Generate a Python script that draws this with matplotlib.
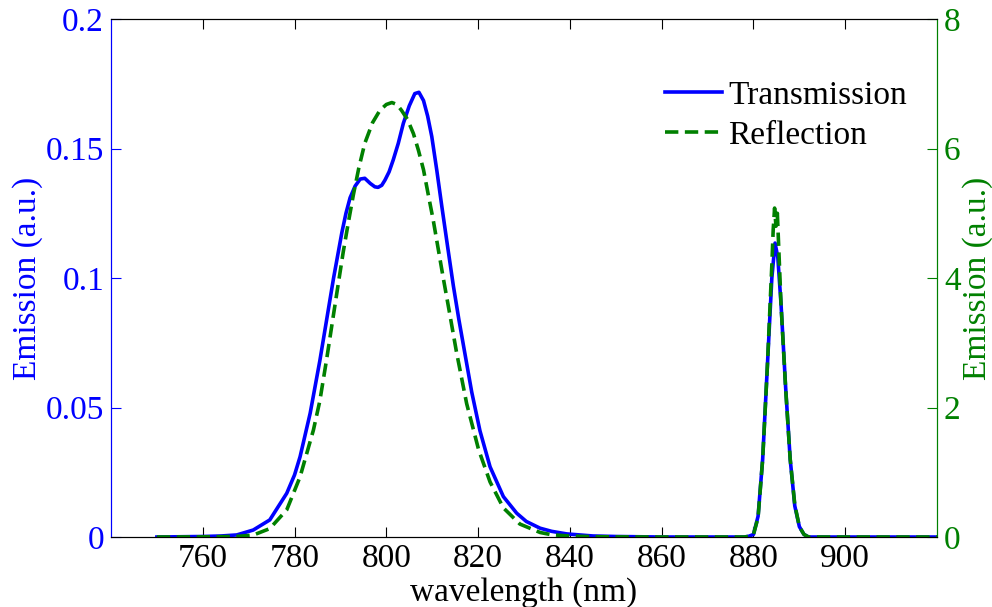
import matplotlib
matplotlib.use("Agg")
import matplotlib.pyplot as plt

# Transmission (left axis, a.u.)
wl_t = [750, 760, 764, 767.4, 771, 774.6, 778.3, 780, 781.2, 783.4, 785.5, 787.0, 788.5, 790.3,
        791.2, 792.1, 793.2, 794.3, 795.3, 796.5, 797.5, 798.2, 799.0, 799.7, 800.6, 801.5,
        802.6, 803.7, 805.0, 806.2, 807.1, 808.1, 809.0, 809.9, 811.0, 812.1, 813.4, 814.6,
        815.8, 817.1, 818.6, 820.4, 822.6, 825.5, 828.4, 830.5, 833.5, 836, 839.3, 845, 850, 860,
        870, 878, 879, 880, 881, 882, 883, 884, 884.7, 885.3, 886, 887, 888, 889, 890,
        891, 892, 900, 920]
em_t = [0.0, 0.0002, 0.0004, 0.0008, 0.0027, 0.0066, 0.0169, 0.024, 0.031, 0.0478, 0.068,
        0.084, 0.100, 0.1175, 0.125, 0.131, 0.1355, 0.1382, 0.1385, 0.1365, 0.1352, 0.135,
        0.1358, 0.1378, 0.141, 0.1456, 0.152, 0.1597, 0.1665, 0.1712, 0.1717, 0.1685, 0.1625,
        0.1546, 0.1415, 0.1275, 0.1115, 0.097, 0.084, 0.071, 0.056, 0.041, 0.0271, 0.0156,
        0.0092, 0.006, 0.0034, 0.0022, 0.0012, 0.0004, 0.0002, 0.0, 0.0, 0.0, 0.0003, 0.001,
        0.008, 0.03, 0.065, 0.10, 0.1135, 0.108, 0.09, 0.058, 0.03, 0.012, 0.004, 0.001, 0.0,
        0.0, 0.0]

# Reflection (right axis, a.u.)
wl_r = [750, 760, 765, 768, 771, 774.6, 778.3, 781.2, 784.1, 785.5, 787.0, 788.3, 789.5,
        790.6, 791.7, 792.8, 794.0, 795.3, 797.0, 798.6, 800.0, 801.2, 802.3, 803.3, 804.6,
        805.9, 807.0, 808.1, 809.1, 810.2, 811.3, 812.4, 813.8, 815.3, 817.5, 820.1, 822.6,
        825.5, 829.1, 833.5, 836, 840, 845, 850, 860, 870, 878, 879, 880, 881, 882, 883, 884,
        884.3, 884.6, 884.9, 885.2, 886, 887, 888, 889, 890, 891, 892, 900, 920]
em_r = [0.0, 0.002, 0.006, 0.012, 0.03, 0.13, 0.42, 0.93, 1.65, 2.1, 2.75, 3.35, 3.9,
        4.4, 4.85, 5.28, 5.7, 6.08, 6.4, 6.59, 6.68, 6.71, 6.68, 6.59, 6.45,
        6.23, 5.97, 5.67, 5.3, 4.9, 4.45, 4.0, 3.45, 2.85, 2.06, 1.35, 0.85,
        0.45, 0.2, 0.07, 0.035, 0.015, 0.005, 0.002, 0.0, 0.0, 0.0, 0.01, 0.04, 0.3, 1.2, 2.6,
        4.2, 4.75, 5.08, 4.8, 5.0, 3.6, 2.3, 1.2, 0.5, 0.16, 0.04, 0.0, 0.0, 0.0]

x_ticks = [760, 780, 800, 820, 840, 860, 880, 900]
left_ticks = [0, 0.05, 0.1, 0.15, 0.2]
left_labels = ["0", "0.05", "0.1", "0.15", "0.2"]
right_ticks = [0, 2, 4, 6, 8]

blue = (0, 0, 1)
green = (0, 0.5, 0)

plt.rcParams['font.family'] = ['Liberation Serif', 'DejaVu Serif']
plt.rcParams['font.size'] = 24

fig = plt.figure(figsize=(9.92, 6.07), dpi=100)
ax1 = fig.add_axes([0.1119, 0.1153, 0.8327, 0.8534])
ax2 = ax1.twinx()

l1, = ax1.plot(wl_t, em_t, color=blue, lw=2.6, label="Transmission")
l2, = ax2.plot(wl_r, em_r, color=green, lw=2.6, ls=(0, (3.7, 1.8)), label="Reflection")

ax1.set_xlim(740, 920)
ax1.set_ylim(0, 0.2)
ax2.set_ylim(0, 8)
ax1.set_xticks(x_ticks)
ax1.set_yticks(left_ticks)
ax1.set_yticklabels(left_labels)
ax2.set_yticks(right_ticks)

ax1.tick_params(axis='x', direction='in', top=True, length=7, width=0.8, pad=5)
ax1.tick_params(axis='y', direction='in', length=7, width=0.8, colors=blue, pad=5)
ax2.tick_params(axis='y', direction='in', length=7, width=0.8, colors=green, pad=5)

ax1.set_xlabel("wavelength (nm)", labelpad=2)
ax1.set_ylabel("Emission (a.u.)", color=blue, labelpad=2)
ax2.set_ylabel("Emission (a.u.)", color=green, labelpad=1)

for ax in (ax1, ax2):
    ax.spines['left'].set_color(blue)
    ax.spines['right'].set_color(green)
    for s in ax.spines.values():
        s.set_linewidth(0.8)

ax2.legend([l1, l2], ["Transmission", "Reflection"], loc='upper right',
           bbox_to_anchor=(1.0, 0.94), frameon=False, handlelength=1.7,
           handletextpad=0.2, labelspacing=0.3, fontsize=24)

fig.savefig("out.png", dpi=100)
